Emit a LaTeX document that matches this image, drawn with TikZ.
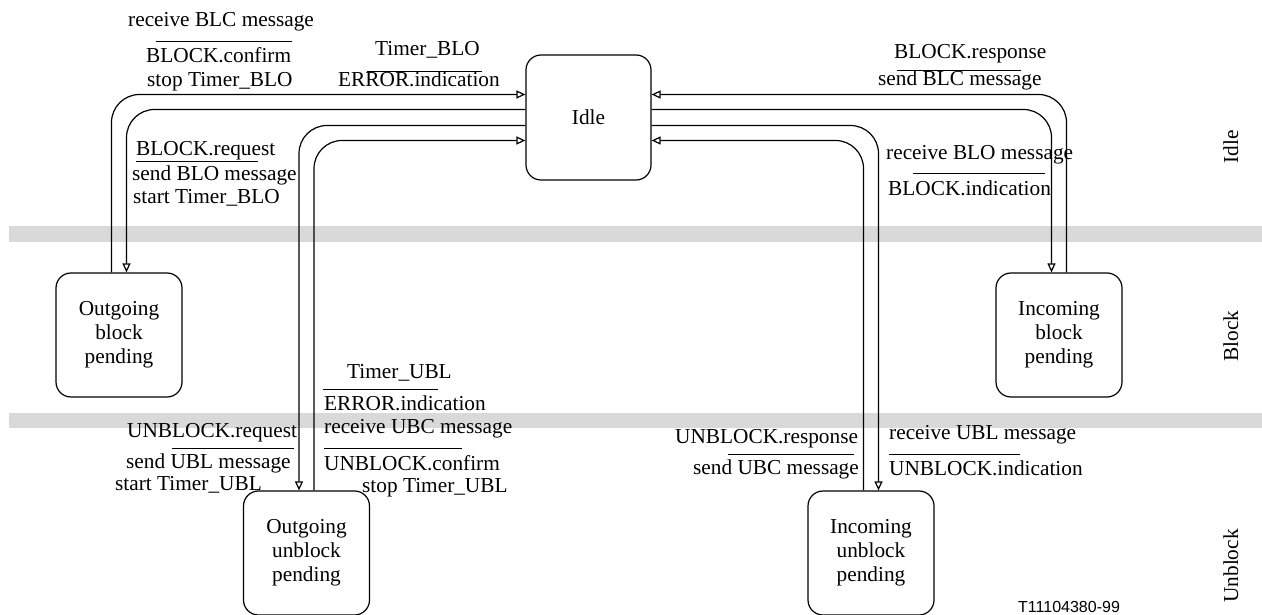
\documentclass[tikz,border=0pt]{standalone}
\usepackage{fontspec}
\setmainfont{Liberation Serif}
\newfontfamily\sansf{Liberation Sans}
\usetikzlibrary{arrows.meta}
\definecolor{bandgray}{RGB}{217,217,217}
\newcommand{\diafont}{\fontsize{21.3}{24}\selectfont}
\begin{document}
\begin{tikzpicture}[x=1pt,y=1pt,
  state/.style={draw, line width=1.2pt, rounded corners=15pt, minimum width=126pt, minimum height=124pt, align=center, font=\diafont, inner sep=0pt},
  lbl/.style={font=\diafont, anchor=west, inner sep=0pt, text height=15pt, text depth=5pt},
  side/.style={font=\diafont, anchor=center, inner sep=0pt, text height=15pt, text depth=5pt, rotate=90},
  conn/.style={line width=1.2pt, rounded corners=28pt, -{Triangle[open,length=9pt,width=8pt]}},
  bar/.style={line width=1pt},
  band/.style={fill=bandgray, draw=none}]
\useasboundingbox (0,0) rectangle (1262,614);
% bands
\fill[band] (9,372) rectangle (1262,388);
\fill[band] (9,186) rectangle (1262,201);
% states
\node[state, minimum width=125pt, minimum height=125pt] (idle) at (588.5,496.5) {Idle};
\node[state] (obp) at (119,279) {Outgoing\\block\\pending};
\node[state] (ibp) at (1059,279) {Incoming\\block\\pending};
\node[state] (oup) at (306.5,61) {Outgoing\\unblock\\pending};
\node[state] (iup) at (871,61) {Incoming\\unblock\\pending};
% connectors left
\draw[conn] ([xshift=-7.5pt]obp.north) |- ([yshift=23pt]idle.west);
\draw[conn] ([yshift=8pt]idle.west) -| ([xshift=7.5pt]obp.north);
\draw[conn] ([yshift=-8pt]idle.west) -| ([xshift=-7.5pt]oup.north);
\draw[conn] ([xshift=7.5pt]oup.north) |- ([yshift=-23pt]idle.west);
% connectors right
\draw[conn] ([xshift=7.5pt]ibp.north) |- ([yshift=23pt]idle.east);
\draw[conn] ([yshift=8pt]idle.east) -| ([xshift=-7.5pt]ibp.north);
\draw[conn] ([yshift=-8pt]idle.east) -| ([xshift=7.5pt]iup.north);
\draw[conn] ([xshift=-7.5pt]iup.north) |- ([yshift=-23pt]idle.east);
% labels top-left
\node[lbl] (a1) at (128,592) {receive BLC message};
\draw[bar] (156,572) -- (292,572);
\node[lbl] (a2) at (146,556) {BLOCK.confirm};
\node[lbl] (a3) at (147,532) {stop Timer\_BLO};
\node[lbl] (b1) at (375,563) {Timer\_BLO};
\draw[bar] (367,542) -- (482,542);
\node[lbl] (b2) at (338,532) {ERROR.indication};
\node[lbl] (c1) at (136,463) {BLOCK.request};
\draw[bar] (136,452) -- (258,452);
\node[lbl] (c2) at (132,438) {send BLO message};
\node[lbl] (c3) at (133,415) {start Timer\_BLO};
% labels top-right
\node[lbl] (d1) at (894,560) {BLOCK.response};
\draw[bar] (897,543) -- (1021,543);
\node[lbl] (d2) at (878,533) {send BLC message};
\node[lbl] (e1) at (886,459) {receive BLO message};
\draw[bar] (913,440) -- (1045,440);
\node[lbl] (e2) at (888,423) {BLOCK.indication};
% labels bottom-left
\node[lbl] (f1) at (127,181) {UNBLOCK.request};
\draw[bar] (172,166) -- (294,166);
\node[lbl] (f2) at (126,151) {send UBL message};
\node[lbl] (f3) at (115,129) {start Timer\_UBL};
\node[lbl] (g1) at (347,240) {Timer\_UBL};
\draw[bar] (323,224) -- (438,224);
\node[lbl] (g2) at (324,209) {ERROR.indication};
\node[lbl] (g3) at (324,185) {receive UBC message};
\draw[bar] (324,166) -- (462,166);
\node[lbl] (g4) at (324,148) {UNBLOCK.confirm};
\node[lbl] (g5) at (362,127) {stop Timer\_UBL};
% labels bottom-right
\node[lbl] (h1) at (675,176) {UNBLOCK.response};
\draw[bar] (728,160) -- (854,160);
\node[lbl] (h2) at (693,145) {send UBC message};
\node[lbl] (i1) at (889,180) {receive UBL message};
\draw[bar] (889,160) -- (1020,160);
\node[lbl] (i2) at (889,144) {UNBLOCK.indication};
% side labels
\node[side] (s1) at (1233,467) {Idle};
\node[side] (s2) at (1233,278) {Block};
\node[side] (s3) at (1233,48) {Unblock};
\node[anchor=base west, inner sep=0pt, font=\sansf\fontsize{16}{18}\selectfont] (tag) at (1018,2) {T11104380-99};
\end{tikzpicture}
\end{document}
